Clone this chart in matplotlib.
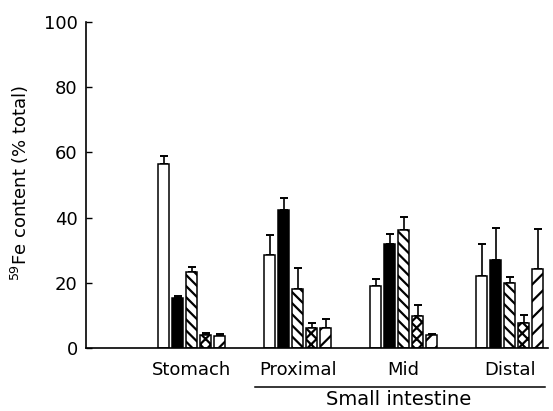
import matplotlib
matplotlib.use("Agg")
import matplotlib.pyplot as plt
import numpy as np

plt.rcParams['font.family'] = ['DejaVu Sans']
plt.rcParams['mathtext.fontset'] = 'dejavusans'
plt.rcParams['hatch.linewidth'] = 1.6

categories = ["Stomach", "Proximal", "Mid", "Distal"]
series_values = [
    [56.3, 28.4, 19.0, 22.0],
    [15.4, 42.2, 32.0, 26.9],
    [23.3, 18.2, 36.1, 20.0],
    [4.1, 6.2, 9.8, 7.7],
    [3.8, 6.2, 3.9, 24.1],
]
series_errors = [
    [2.5, 6.2, 2.3, 10.0],
    [0.4, 3.9, 3.0, 10.0],
    [1.6, 6.4, 4.1, 1.7],
    [0.5, 1.5, 3.5, 2.3],
    [0.4, 2.8, 0.3, 12.5],
]
y_ticks = [0, 20, 40, 60, 80, 100]

styles = [
    dict(facecolor='white', hatch=None),
    dict(facecolor='black', hatch=None),
    dict(facecolor='white', hatch='\\\\\\'),
    dict(facecolor='white', hatch='xxx'),
    dict(facecolor='white', hatch='//'),
]

fig = plt.figure(figsize=(5.53, 4.11), dpi=100)
ax = fig.add_axes([86/553, 1-348/411, 462/553, 326/411])

x = np.arange(len(categories))
step = 0.132
width = 0.1
n = len(series_values)
for i, (vals, errs) in enumerate(zip(series_values, series_errors)):
    pos = x + (i - (n-1)/2) * step
    ax.bar(pos, vals, width=width, edgecolor='black', linewidth=1.1,
           zorder=2, **styles[i])
    ax.errorbar(pos, vals, yerr=[np.zeros(len(errs)), errs], fmt='none',
                ecolor='black', elinewidth=1.2, capsize=2.8, capthick=1.4,
                zorder=1)

ax.set_xlim(-0.997, 3.361)
ax.set_ylim(0, 100)
ax.set_yticks(y_ticks)
ax.set_xticks(x)
ax.set_xticklabels(categories, fontsize=13)
ax.tick_params(axis='x', length=0, pad=9)
ax.tick_params(axis='y', direction='in', length=4, width=1, labelsize=13, pad=6)
for s in ['top', 'right']:
    ax.spines[s].set_visible(False)
ax.spines['left'].set_linewidth(1.2)
ax.spines['bottom'].set_linewidth(1.2)

ax.set_ylabel(r'$^{59}$Fe content (% total)', fontsize=13, va='center')
ax.yaxis.set_label_coords(-0.143, 0.506)

trans = ax.get_xaxis_transform()
ax.plot([0.597, 3.333], [-0.1196, -0.1196], color='black', lw=1.1,
        transform=trans, clip_on=False)
ax.text(1.95, -0.158, "Small intestine", transform=trans,
        ha='center', va='center', fontsize=14)

fig.savefig("out.png", dpi=100)
